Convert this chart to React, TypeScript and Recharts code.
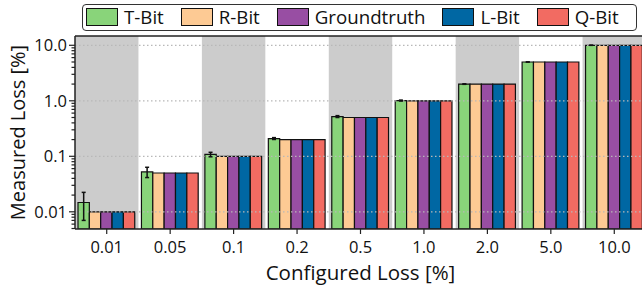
import React from 'react';
import { BarChart, Bar, XAxis, YAxis, ReferenceArea, ReferenceLine, ErrorBar, Label } from 'recharts';

const categories = ['0.01', '0.05', '0.1', '0.2', '0.5', '1.0', '2.0', '5.0', '10.0'];
const tBit = [0.0147, 0.0524, 0.108, 0.209, 0.52, 1.01, 2.0, 5.0, 10.0];
const tBitErr = [0.0077, 0.011, 0.01, 0.008, 0.02, 0.02, 0.02, 0.02, 0.02];
const rBit = [0.01, 0.05, 0.1, 0.2, 0.5, 1.0, 2.0, 5.0, 10.0];
const groundtruth = [0.01, 0.05, 0.1, 0.2, 0.5, 1.0, 2.0, 5.0, 10.0];
const lBit = [0.01, 0.05, 0.1, 0.2, 0.5, 1.0, 2.0, 5.0, 10.0];
const qBit = [0.01, 0.05, 0.1, 0.2, 0.5, 1.0, 2.0, 5.0, 10.0];
const zeroErr = [0, 0, 0, 0, 0, 0, 0, 0, 0];

const shadedCategories = ['0.01', '0.1', '0.5', '2.0', '10.0'];
const majorTicks = [0.01, 0.1, 1, 10];
const majorTickLabels = ['0.01', '0.1', '1.0', '10.0'];
const minorTicks = [
  0.005, 0.006, 0.007, 0.008, 0.009,
  0.02, 0.03, 0.04, 0.05, 0.06, 0.07, 0.08, 0.09,
  0.2, 0.3, 0.4, 0.5, 0.6, 0.7, 0.8, 0.9,
  2, 3, 4, 5, 6, 7, 8, 9,
];
const yDomain = [0.0049, 14.7];

const series = [
  { key: 'tBit', err: 'tBitErr', name: 'T-Bit', color: '#89d47a' },
  { key: 'rBit', err: 'rBitErr', name: 'R-Bit', color: '#fdca94' },
  { key: 'groundtruth', err: 'gtErr', name: 'Groundtruth', color: '#984ea3' },
  { key: 'lBit', err: 'lBitErr', name: 'L-Bit', color: '#0067a3' },
  { key: 'qBit', err: 'qBitErr', name: 'Q-Bit', color: '#f26b62' },
];

const data = categories.map((cat, i) => ({
  cat,
  tBit: tBit[i],
  tBitErr: tBitErr[i],
  rBit: rBit[i],
  rBitErr: zeroErr[i],
  groundtruth: groundtruth[i],
  gtErr: zeroErr[i],
  lBit: lBit[i],
  lBitErr: zeroErr[i],
  qBit: qBit[i],
  qBitErr: zeroErr[i],
}));

const FONT = '"Open Sans", "DejaVu Sans", sans-serif';

const YTick = (props: any) => {
  const { x, y, payload } = props;
  const v = payload.value;
  const idx = majorTicks.findIndex((m) => Math.abs(m - v) / m < 1e-6);
  const isMajor = idx >= 0;
  return (
    <g>
      <line x1={x - (isMajor ? 6 : 3.5)} x2={x} y1={y} y2={y} stroke="#222" strokeWidth={1.2} />
      {isMajor && (
        <text x={x - 8} y={y} dy="0.36em" textAnchor="end" fontSize={16.5} fontFamily={FONT} fill="#111">
          {majorTickLabels[idx]}
        </text>
      )}
    </g>
  );
};

export default function App() {
  return (
    <div style={{ position: 'absolute', left: 0, top: 0, width: 642, height: 288, overflow: 'hidden', background: '#fff' }}>
      <BarChart
        width={680}
        height={288}
        data={data}
        margin={{ top: 36, right: 34, left: 0, bottom: 0 }}
        barCategoryGap="5%"
        barGap={0}
        barSize={11.35}
        baseValue="dataMin"
      >
        {shadedCategories.map((c) => (
          <ReferenceArea key={c} x1={c} x2={c} fill="#cccccc" fillOpacity={1} stroke="none" ifOverflow="visible" />
        ))}
        {majorTicks.map((t) => (
          <ReferenceLine key={t} y={t} stroke="#b8b8b8" strokeWidth={1.2} strokeDasharray="1.5 2.5" />
        ))}
        <ReferenceLine y={yDomain[1]} stroke="#222" strokeWidth={1.5} />
        <XAxis
          dataKey="cat"
          height={59}
          tickSize={5}
          tickMargin={7}
          axisLine={{ stroke: '#222', strokeWidth: 1.5 }}
          tickLine={{ stroke: '#222', strokeWidth: 1.2 }}
          tick={{ fontSize: 16.5, fontFamily: FONT, fill: '#111' }}
          interval={0}
        >
          <Label value="Configured Loss [%]" position="insideBottom" offset={8} fontSize={20.5} fontFamily={FONT} fill="#111" />
        </XAxis>
        <YAxis
          scale="log"
          type="number"
          domain={yDomain}
          allowDataOverflow
          ticks={[...minorTicks, ...majorTicks].sort((a, b) => a - b)}
          interval={0}
          width={75}
          tickSize={0}
          tickMargin={0}
          tickLine={false}
          axisLine={{ stroke: '#222', strokeWidth: 1.5 }}
          tick={<YTick />}
        >
          <Label
            content={(p: any) => {
              const vb = p.viewBox || { y: 36, height: 193 };
              const cy = vb.y + vb.height / 2;
              return (
                <text x={25} y={cy} transform={`rotate(-90, 25, ${cy})`} textAnchor="middle" fontSize={20} fontFamily={FONT} fill="#111">
                  Measured Loss [%]
                </text>
              );
            }}
          />
        </YAxis>
        {series.map((s) => (
          <Bar key={s.key} dataKey={s.key} name={s.name} fill={s.color} stroke="#111" strokeWidth={1.2} isAnimationActive={false}>
            <ErrorBar dataKey={s.err} width={2} stroke="#111" strokeWidth={1.5} direction="y" isAnimationActive={false} />
          </Bar>
        ))}
      </BarChart>
      <div
        style={{
          position: 'absolute',
          left: 82,
          top: 4,
          width: 555,
          height: 27,
          boxSizing: 'border-box',
          border: '1px solid #333',
          borderRadius: 4,
          display: 'flex',
          alignItems: 'center',
          paddingLeft: 3,
          fontFamily: FONT,
          fontSize: 18.7,
          lineHeight: 1,
          color: '#111',
          background: '#fff',
          whiteSpace: 'nowrap',
          overflow: 'hidden',
        }}
      >
        {series.map((s) => (
          <div key={s.key} style={{ display: 'flex', alignItems: 'center', marginRight: 17, flexShrink: 0 }}>
            <div style={{ width: 32, height: 18, background: s.color, border: '1px solid #111', boxSizing: 'border-box', marginRight: 6, flexShrink: 0 }} />
            <span style={{ whiteSpace: 'nowrap' }}>{s.name}</span>
          </div>
        ))}
      </div>
    </div>
  );
}
